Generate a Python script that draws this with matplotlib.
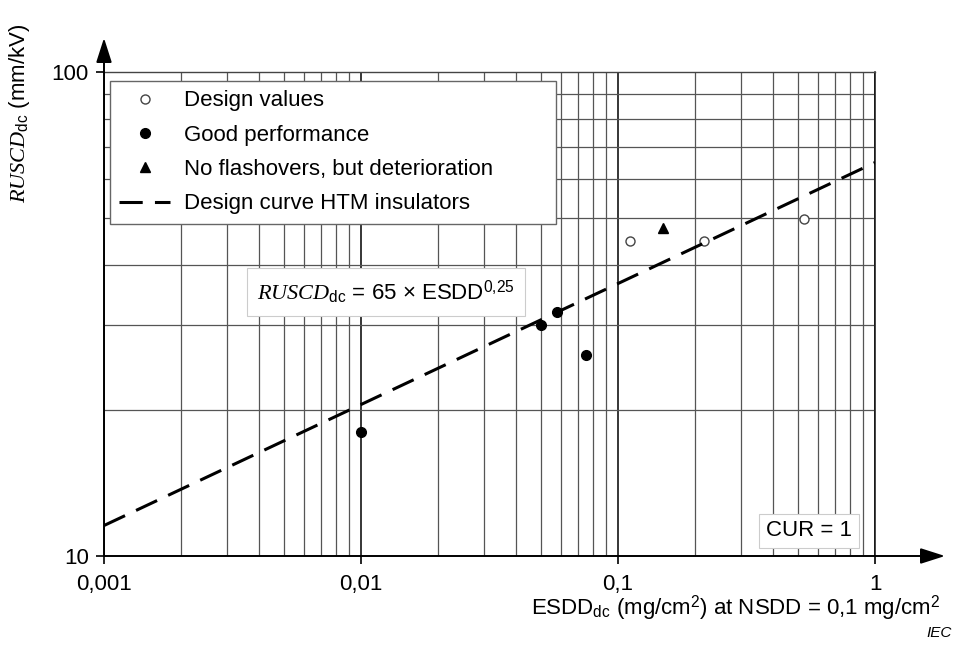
import matplotlib
matplotlib.use("Agg")
import matplotlib.pyplot as plt
from matplotlib.ticker import FixedLocator, NullFormatter, LogLocator

plt.rcParams['font.family'] = ['Liberation Sans', 'DejaVu Sans']
plt.rcParams['mathtext.fontset'] = 'custom'
plt.rcParams['mathtext.rm'] = 'Liberation Sans'
plt.rcParams['mathtext.it'] = 'Liberation Serif:italic'
plt.rcParams['mathtext.bf'] = 'Liberation Sans:bold'

# ---- data ----
design_x = [0.111, 0.217, 0.53]
design_y = [44.8, 44.8, 49.8]
good_x = [0.01, 0.05, 0.058, 0.075]
good_y = [18.0, 30.0, 32.0, 26.0]
deter_x = [0.15]
deter_y = [47.5]
curve_x = [0.001, 1.0]
curve_y = [11.56, 65.0]

xticks = [0.001, 0.01, 0.1, 1]
xtick_labels = ['0,001', '0,01', '0,1', '1']
yticks = [10, 100]
ytick_labels = ['10', '100']

FS = 16
W, H = 955, 646
fig = plt.figure(figsize=(W / 100, H / 100), dpi=100)
L, R, T, B = 104, 875, 72, 556
ax = fig.add_axes([L / W, 1 - B / H, (R - L) / W, (B - T) / H])
ax.set_xscale('log')
ax.set_yscale('log')
ax.set_xlim(0.001, 1)
ax.set_ylim(10, 100)

def ax_px(x, y):
    return ((x - L) / (R - L), (B - y) / (B - T))

# grid
ax.xaxis.set_major_locator(FixedLocator(xticks))
ax.yaxis.set_major_locator(FixedLocator(yticks))
ax.xaxis.set_minor_locator(LogLocator(base=10, subs=range(2, 10)))
ax.yaxis.set_minor_locator(LogLocator(base=10, subs=range(2, 10)))
ax.xaxis.set_minor_formatter(NullFormatter())
ax.yaxis.set_minor_formatter(NullFormatter())
ax.set_xticklabels(xtick_labels)
ax.set_yticklabels(ytick_labels)
ax.grid(True, which='minor', color='#555555', lw=0.9)
ax.grid(True, which='major', axis='x', color='#000000', lw=1.1)
ax.tick_params(which='minor', length=0)
ax.tick_params(which='major', length=6, width=1.2, direction='out', labelsize=FS)
ax.tick_params(axis='x', which='major', pad=7)
ax.tick_params(axis='y', which='major', pad=5)
ax.set_axisbelow(True)

for s in ['left', 'bottom']:
    ax.spines[s].set_visible(False)
ax.spines['top'].set_color('#444444')
ax.spines['top'].set_linewidth(1.0)
ax.spines['right'].set_color('#111111')
ax.spines['right'].set_linewidth(1.1)

# axis arrows
arrow_kw = dict(arrowstyle='-|>,head_length=1.0,head_width=0.32', color='k', lw=1.4,
                mutation_scale=15, shrinkA=0, shrinkB=0)
ax.annotate('', xy=ax_px(945, B), xytext=(0, 0), xycoords='axes fraction',
            textcoords='axes fraction', arrowprops=arrow_kw, annotation_clip=False)
ax.annotate('', xy=ax_px(L, 38), xytext=(0, 0), xycoords='axes fraction',
            textcoords='axes fraction', arrowprops=arrow_kw, annotation_clip=False)

# data
h1, = ax.plot(design_x, design_y, 'o', ms=6.5, mfc='white', mec='#444444', mew=1.0,
              ls='none', label='Design values', zorder=3)
h2, = ax.plot(good_x, good_y, 'o', ms=7, color='black', ls='none',
              label='Good performance', zorder=3)
h3, = ax.plot(deter_x, deter_y, '^', ms=7, color='black', ls='none',
              label='No flashovers, but deterioration', zorder=3)
h4, = ax.plot(curve_x, curve_y, color='black', lw=2.2, dashes=(7.6, 4.0),
              label='Design curve HTM insulators', zorder=4)
h4.set_dash_capstyle('butt')

lx0, ly0 = ax_px(110, 222)
lx1, ly1 = ax_px(556, 81)
leg = ax.legend(handles=[h1, h2, h3, h4], loc='upper left',
                bbox_to_anchor=(lx0, ly0, lx1 - lx0, ly1 - ly0), mode='expand',
                fontsize=FS, frameon=True, fancybox=False, framealpha=1,
                edgecolor='#666666', borderpad=0.42, labelspacing=0.6,
                handlelength=2.3, handletextpad=0.6, borderaxespad=0)
leg.get_frame().set_linewidth(1.0)
leg.set_zorder(6)

# formula box
ax.text(*ax_px(386, 292),
        r'$\mathit{RUSCD}_{\mathrm{dc}}$ = 65 × ESDD$^{\mathrm{0{,}25}}$',
        transform=ax.transAxes, ha='center', va='center', fontsize=FS, zorder=6,
        bbox=dict(boxstyle='square,pad=0.45', fc='white', ec='#cccccc', lw=0.8))

# CUR box
ax.text(*ax_px(809, 531), 'CUR = 1',
        transform=ax.transAxes, ha='center', va='center', fontsize=FS, zorder=6,
        bbox=dict(boxstyle='square,pad=0.3', fc='white', ec='#cccccc', lw=0.8))

# axis labels
fig.text(20 / W, 1 - 113 / H, r'$\mathit{RUSCD}_{\mathrm{dc}}$ (mm/kV)', rotation=90,
         ha='center', va='center', fontsize=FS)
fig.text(940 / W, 1 - 608 / H,
         r'ESDD$_{\mathrm{dc}}$ (mg/cm$^{\mathrm{2}}$) at NSDD = 0,1 mg/cm$^{\mathrm{2}}$',
         ha='right', va='center', fontsize=FS)
fig.text(952 / W, 1 - 633 / H, 'IEC', ha='right', va='center', fontsize=11,
         style='italic')

fig.savefig('out.png', dpi=100)
